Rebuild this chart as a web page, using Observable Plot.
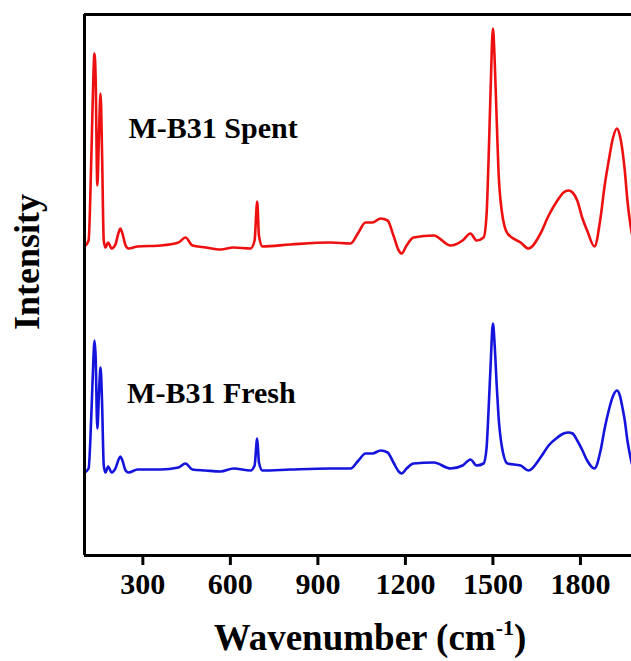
<!DOCTYPE html>
<html>
<head>
<meta charset="utf-8">
<script src="https://cdn.jsdelivr.net/npm/d3@7"></script>
<script src="https://cdn.jsdelivr.net/npm/@observablehq/plot@0.6"></script>
<style>
  body { margin: 0; background: #fff; }
  #chart svg { display: block; }
</style>
</head>
<body>
<div id="chart"></div>
<script>
// Wavenumber (cm-1) sample points
const wavenumber = [100,114,124,131,134,138,144,150,155,160,
  166,172,181,193,206,217,223,230,241,251,
  282,361,422,446,470,515,566,611,669,683,
  692,698,710,806,943,1012,1039,1063,1087,1115,
  1139,1159,1177,1187,1204,1228,1297,1355,1396,1423,
  1444,1468,1478,1485,1492,1500,1506,1513,1519,1530,
  1550,1595,1622,1663,1691,1721,1742,1759,1773,1789,
  1807,1823,1848,1869,1883,1897,1911,1925,1935,1944,
  1952,1961,1976];

// Intensity (arbitrary units, offset as in the figure)
const spentIntensity = [309,315,405,485,502,480,370,425,462,405,
  315,308,313,307,311,323,327,322,310,307,
  309,310,313,318,310,308,306,308,307,315,
  354,320,309,311,313,312,323,333,333,337,
  335,320,305,302,310,318,320,310,315,322,
  315,318,340,395,465,527,495,435,385,345,
  322,313,307,322,340,355,363,365,363,355,
  337,325,309,338,370,395,417,427,420,405,
  385,355,322];

const freshIntensity = [83,87,145,200,215,200,127,165,188,155,
  90,83,89,83,87,96,99,95,85,83,
  86,86,88,92,86,85,84,87,85,90,
  117,93,85,86,87,87,95,102,102,105,
  103,93,84,82,87,92,93,87,90,96,
  90,92,107,145,190,232,210,170,140,110,
  92,90,85,98,110,118,122,123,122,115,
  105,95,87,105,127,145,159,165,160,148,
  135,115,92];

const xTicks = [300, 600, 900, 1200, 1500, 1800];
const xDomain = [100, 1975];
const yDomain = [0, 541];

const seriesNames = ["M-B31 Spent", "M-B31 Fresh"];
const labelWavenumber = [251, 246];
const labelIntensity = [427, 162];

const spent = wavenumber.map((w, i) => ({w, v: spentIntensity[i]}));
const fresh = wavenumber.map((w, i) => ({w, v: freshIntensity[i]}));
const labels = seriesNames.map((name, i) => ({name, w: labelWavenumber[i], v: labelIntensity[i]}));

const serif = "'Liberation Serif', 'Times New Roman', serif";

const chart = Plot.plot({
  width: 631,
  height: 661,
  marginLeft: 84,
  marginRight: 0,
  marginTop: 14,
  marginBottom: 106,
  style: {fontFamily: serif, background: "#fff", color: "#000"},
  x: {domain: xDomain},
  y: {domain: yDomain, axis: null},
  marks: [
    Plot.line(spent, {x: "w", y: "v", stroke: "#ee1010", strokeWidth: 2.6, curve: "monotone-x", clip: true}),
    Plot.line(fresh, {x: "w", y: "v", stroke: "#1414dc", strokeWidth: 2.6, curve: "monotone-x", clip: true}),
    Plot.ruleX([xDomain[0]], {stroke: "#000", strokeWidth: 3}),
    Plot.ruleY(yDomain, {stroke: "#000", strokeWidth: 3}),
    Plot.axisX({ticks: xTicks, tickFormat: d => String(d), tickSize: 10, tickPadding: 7, strokeWidth: 3,
      fontSize: 30, fontWeight: "bold", fill: "#000", label: null}),
    Plot.text(labels, {x: "w", y: "v", text: "name", textAnchor: "start",
      fontSize: 30, fontWeight: "bold", fill: "#000"})
  ]
});

document.getElementById("chart").appendChild(chart);

const svg = d3.select(chart);
const xt = svg.append("text")
  .attr("x", 370).attr("y", 650)
  .attr("text-anchor", "middle")
  .attr("font-family", serif)
  .attr("font-size", 37)
  .attr("font-weight", "bold")
  .attr("fill", "#000");
xt.append("tspan").text("Wavenumber (cm");
xt.append("tspan").attr("font-size", 22).attr("dy", -15).text("-1");
xt.append("tspan").attr("dy", 15).text(")");

svg.append("text")
  .attr("transform", "translate(39,262) rotate(-90)")
  .attr("text-anchor", "middle")
  .attr("font-family", serif)
  .attr("font-size", 36)
  .attr("font-weight", "bold")
  .attr("fill", "#000")
  .text("Intensity");
</script>
</body>
</html>
